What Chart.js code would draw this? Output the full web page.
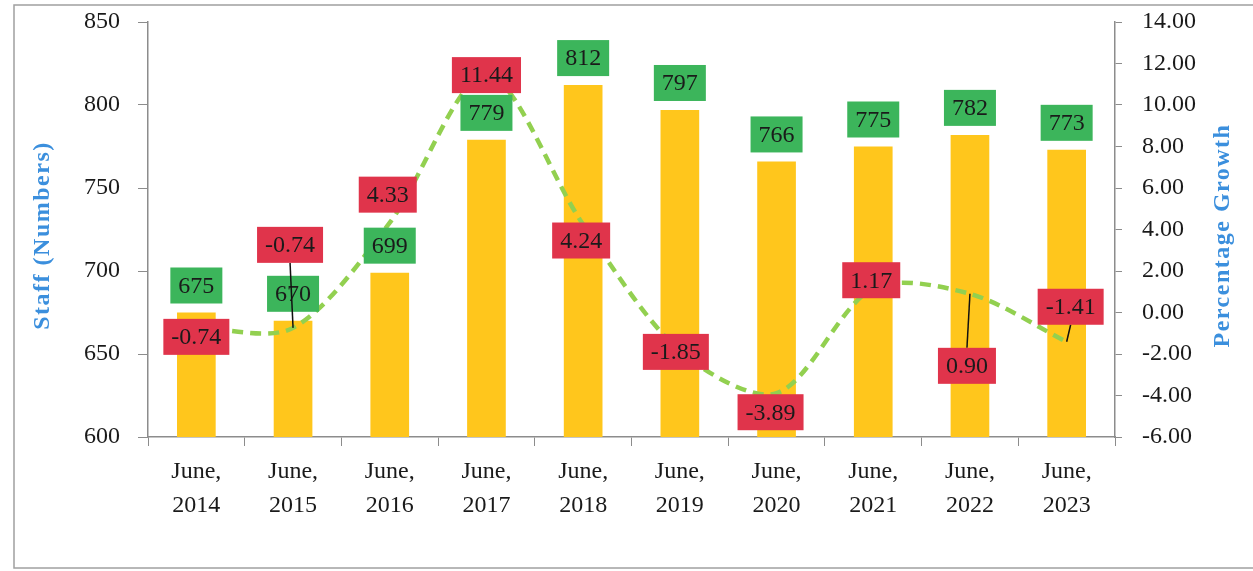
<!DOCTYPE html>
<html>
<head>
<meta charset="utf-8">
<title>Staff and Percentage Growth</title>
<script src="https://cdn.jsdelivr.net/npm/chart.js@4.4.1/dist/chart.umd.min.js"></script>
<style>
  html, body { margin: 0; padding: 0; background: #fff; }
  canvas { display: block; }
</style>
</head>
<body>
<canvas id="staffChart" width="1253" height="571"></canvas>
<script>
// data
const years = [['June,', '2014'], ['June,', '2015'], ['June,', '2016'], ['June,', '2017'], ['June,', '2018'],
               ['June,', '2019'], ['June,', '2020'], ['June,', '2021'], ['June,', '2022'], ['June,', '2023']];
const staff = [675, 670, 699, 779, 812, 797, 766, 775, 782, 773];
const growth = [-0.74, -0.74, 4.33, 11.44, 4.24, -1.85, -3.89, 1.17, 0.90, -1.41];

// where the red labels sit relative to their point (px), and which get a leader line
const growthLabelDx = [0, -3, -2, 0, -2, -4, -6, -2, -3, 4];
const growthLabelDy = [9, -83, -28, 0, 16, 1, 19, -8, 72, -35];
const growthLeader = [false, true, false, false, false, false, false, false, true, true];

const SERIF = '"Liberation Serif", "Times New Roman", serif';
const GREEN_BOX = '#3CB55B';
const RED_BOX = '#E0344B';
const AXIS_GREY = '#8c8c8c';
const TITLE_BLUE = '#3B8FDD';

function drawBox(ctx, text, cx, cy, fill) {
    const w = ctx.measureText(text).width + 16;
    const h = 36;
    ctx.fillStyle = fill;
    ctx.fillRect(cx - w / 2, cy - h / 2, w, h);
    ctx.fillStyle = '#1a1a1a';
    ctx.fillText(text, cx, cy + 1);
    return { w, h };
}

const framePlugin = {
    id: 'frame',
    beforeDraw(chart) {
        const ctx = chart.ctx;
        ctx.save();
        ctx.fillStyle = '#fff';
        ctx.fillRect(0, 0, chart.width, chart.height);
        ctx.strokeStyle = '#a0a0a0';
        ctx.lineWidth = 1.5;
        ctx.strokeRect(14, 5, chart.width + 10, chart.height - 8);
        ctx.restore();
    },
    afterDraw(chart) {
        // axis titles, both reading bottom-to-top
        const ctx = chart.ctx;
        const midY = (chart.chartArea.top + chart.chartArea.bottom) / 2;
        ctx.save();
        ctx.fillStyle = TITLE_BLUE;
        ctx.font = 'bold 24px ' + SERIF;
        ctx.textAlign = 'center';
        ctx.textBaseline = 'middle';
        ctx.letterSpacing = '1.5px';
        [[43, 'Staff (Numbers)'], [1223, 'Percentage Growth']].forEach(([x, t]) => {
            ctx.save();
            ctx.translate(x, midY + 6);
            ctx.rotate(-Math.PI / 2);
            ctx.fillText(t, 0, 0);
            ctx.restore();
        });
        ctx.restore();
    }
};

const labelPlugin = {
    id: 'boxLabels',
    afterDatasetsDraw(chart) {
        const ctx = chart.ctx;
        const lineMeta = chart.getDatasetMeta(0);
        const barMeta = chart.getDatasetMeta(1);
        ctx.save();
        ctx.font = '24px ' + SERIF;
        ctx.textAlign = 'center';
        ctx.textBaseline = 'middle';

        // green value boxes above the bars
        barMeta.data.forEach((bar, i) => {
            drawBox(ctx, String(staff[i]), bar.x, bar.y - 27, GREEN_BOX);
        });

        // leader lines
        ctx.strokeStyle = '#111';
        ctx.lineWidth = 1.5;
        lineMeta.data.forEach((pt, i) => {
            if (!growthLeader[i]) return;
            const cx = pt.x + growthLabelDx[i];
            const cy = pt.y + growthLabelDy[i];
            const edge = growthLabelDy[i] < 0 ? cy + 18 : cy - 18;
            ctx.beginPath();
            ctx.moveTo(cx, edge);
            ctx.lineTo(pt.x, pt.y);
            ctx.stroke();
        });

        // red growth boxes
        lineMeta.data.forEach((pt, i) => {
            drawBox(ctx, growth[i].toFixed(2), pt.x + growthLabelDx[i], pt.y + growthLabelDy[i], RED_BOX);
        });
        ctx.restore();
    }
};

// keep the value axes from reserving extra room above/below the plot
function fixVertical(width) {
    return (s) => { s.width = width; s.paddingTop = 0; s.paddingBottom = 0; };
}

const ctx = document.getElementById('staffChart').getContext('2d');
const myChart = new Chart(ctx, {
    type: 'bar',
    data: {
        labels: years,
        datasets: [
            {
                type: 'line',
                label: 'Percentage Growth',
                data: growth,
                yAxisID: 'y1',
                borderColor: '#92D050',
                borderWidth: 4.5,
                borderDash: [11, 7],
                tension: 0.3,
                pointRadius: 0,
                fill: false,
                order: 0
            },
            {
                label: 'Staff (Numbers)',
                data: staff,
                yAxisID: 'y',
                backgroundColor: '#FFC61C',
                barPercentage: 0.4,
                categoryPercentage: 1.0,
                order: 1
            }
        ]
    },
    options: {
        responsive: false,
        animation: false,
        devicePixelRatio: 1,
        layout: { padding: { top: 22, left: 0, right: 0, bottom: 0 } },
        plugins: {
            legend: { display: false },
            tooltip: { enabled: false }
        },
        scales: {
            x: {
                offset: true,
                grid: { drawOnChartArea: false, offset: true, tickLength: 9, color: AXIS_GREY },
                border: { color: AXIS_GREY, width: 1.5 },
                ticks: { color: '#1a1a1a', font: { family: SERIF, size: 24, lineHeight: 1.45 }, maxRotation: 0, autoSkip: false, padding: 8 },
                afterFit: (s) => { s.height = 134; }
            },
            y: {
                position: 'left',
                min: 600, max: 850,
                grid: { drawOnChartArea: false, tickLength: 10, color: AXIS_GREY },
                border: { color: AXIS_GREY, width: 1.5 },
                ticks: { stepSize: 50, color: '#1a1a1a', font: { family: SERIF, size: 24 }, padding: 18 },
                afterFit: fixVertical(148)
            },
            y1: {
                position: 'right',
                min: -6, max: 14,
                grid: { drawOnChartArea: false, tickLength: 7, color: AXIS_GREY },
                border: { color: AXIS_GREY, width: 1.5 },
                ticks: { stepSize: 2, color: '#1a1a1a', font: { family: SERIF, size: 24 }, padding: 20,
                         callback: (v) => v.toFixed(2) },
                afterFit: fixVertical(138)
            }
        }
    },
    plugins: [framePlugin, labelPlugin]
});
</script>
</body>
</html>
